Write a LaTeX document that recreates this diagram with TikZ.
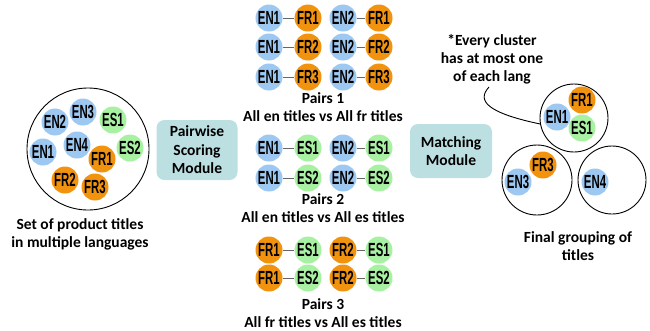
\documentclass[tikz,border=0pt]{standalone}
\usepackage{fontspec}
\usepackage{graphicx}
\setmainfont{Carlito}
\newfontfamily\lblfont{Liberation Sans}
\definecolor{enblue}{HTML}{9DC8F2}
\definecolor{frorange}{HTML}{F2930F}
\definecolor{esgreen}{HTML}{A8F0A2}
\definecolor{modfill}{HTML}{BCDFE2}
\newcommand{\lbl}[1]{\scalebox{0.6}[1]{#1}}
\tikzset{
  x=1pt, y=-1pt,
  tok/.style={circle, minimum size=27pt, inner sep=0pt,
    font=\lblfont\bfseries\fontsize{19}{19}\selectfont},
  en/.style={tok, fill=enblue},
  fr/.style={tok, fill=frorange},
  es/.style={tok, fill=esgreen},
  module/.style={rounded corners=8pt, fill=modfill, inner sep=0pt,
    align=center, font=\bfseries\fontsize{15.5}{18.5}\selectfont},
  caption/.style={align=center, inner sep=0pt,
    font=\bfseries\fontsize{15.5}{18}\selectfont},
  pairlink/.style={draw=black!60, line width=0.9pt},
  cluster/.style={circle, draw=black, line width=0.9pt, inner sep=0pt}
}
\begin{document}
\begin{tikzpicture}
\useasboundingbox (0,0) rectangle (650,330);

% input set
\node[cluster, minimum size=122pt] (pool) at (88,149) {};
\node[en] (in2) at (55,122) {\lbl{EN2}};
\node[en] (in3) at (83,112) {\lbl{EN3}};
\node[es] (is1) at (113,120) {\lbl{ES1}};
\node[en] (in1) at (43,152) {\lbl{EN1}};
\node[en] (in4) at (77,145) {\lbl{EN4}};
\node[es] (is2) at (130,148) {\lbl{ES2}};
\node[fr] (if1) at (102,159) {\lbl{FR1}};
\node[fr] (if2) at (65,180) {\lbl{FR2}};
\node[fr] (if3) at (95,187) {\lbl{FR3}};
\node[caption] (incap) at (80,234) {Set of product titles\\in multiple languages};

% scoring module
\node[module, minimum width=81pt, minimum height=60pt] (score) at (197,150) {Pairwise\\Scoring\\Module};

% pairs: en vs fr
\foreach \r/\y in {1/18,2/47,3/77}{
  \node[en] (a\r l) at (269,\y) {\lbl{EN1}};
  \node[fr] (b\r l) at (308,\y) {\lbl{FR\r}};
  \node[en] (a\r r) at (343,\y) {\lbl{EN2}};
  \node[fr] (b\r r) at (379,\y) {\lbl{FR\r}};
  \draw[pairlink] (a\r l) -- (b\r l);
  \draw[pairlink] (a\r r) -- (b\r r);
}
\node[caption] (cap1) at (323,107) {Pairs 1\\All en titles vs All fr titles};

% pairs: en vs es
\foreach \r/\y in {1/148,2/178}{
  \node[en] (c\r l) at (269,\y) {\lbl{EN1}};
  \node[es] (d\r l) at (308,\y) {\lbl{ES\r}};
  \node[en] (c\r r) at (343,\y) {\lbl{EN2}};
  \node[es] (d\r r) at (379,\y) {\lbl{ES\r}};
  \draw[pairlink] (c\r l) -- (d\r l);
  \draw[pairlink] (c\r r) -- (d\r r);
}
\node[caption] (cap2) at (323,208) {Pairs 2\\All en titles vs All es titles};

% pairs: fr vs es
\foreach \r/\y in {1/250,2/278}{
  \node[fr] (e\r l) at (269,\y) {\lbl{FR1}};
  \node[es] (f\r l) at (308,\y) {\lbl{ES\r}};
  \node[fr] (e\r r) at (343,\y) {\lbl{FR2}};
  \node[es] (f\r r) at (379,\y) {\lbl{ES\r}};
  \draw[pairlink] (e\r l) -- (f\r l);
  \draw[pairlink] (e\r r) -- (f\r r);
}
\node[caption] (cap3) at (323,313) {Pairs 3\\All fr titles vs All es titles};

% matching module
\node[module, minimum width=82pt, minimum height=54pt] (match) at (451,151) {Matching\\Module};

% resulting clusters
\node[cluster, minimum size=68pt] (g1) at (574,118) {};
\node[en] (g1en) at (557,117) {\lbl{EN1}};
\node[fr] (g1fr) at (582,100) {\lbl{FR1}};
\node[es] (g1es) at (582,128) {\lbl{ES1}};

\node[cluster, minimum size=70pt] (g2) at (537,180) {};
\node[en] (g2en) at (518,182) {\lbl{EN3}};
\node[fr] (g2fr) at (543,165) {\lbl{FR3}};

\node[cluster, minimum size=68pt] (g3) at (612,180) {};
\node[en] (g3en) at (595,182) {\lbl{EN4}};

\node[caption] (outcap) at (578,246) {Final grouping of\\titles};

% constraint note
\node[caption] (note) at (492,59) {*Every cluster\\has at most one\\of each lang};
\coordinate (notetail) at (489,87);
\draw[line width=0.9pt] (notetail) .. controls (476,101) and (488,113) .. (g1.190);
\end{tikzpicture}
\end{document}
